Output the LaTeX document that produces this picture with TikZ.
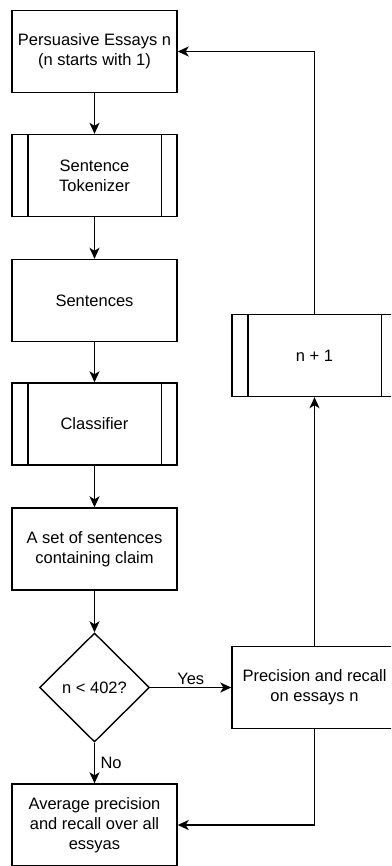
\documentclass[tikz,border=0pt]{standalone}
\usepackage{fontspec}
\setmainfont{Liberation Sans}
\usetikzlibrary{shapes.geometric,arrows.meta}
\begin{document}
\begin{tikzpicture}[x=1pt,y=-1pt,
  every node/.style={font=\fontsize{16.5}{19.8}\selectfont, align=center},
  box/.style={draw, line width=1.4pt, minimum width=165pt, minimum height=82pt, inner sep=2pt},
  decision/.style={draw, line width=1.4pt, diamond, minimum width=110pt, minimum height=109pt, inner sep=0pt},
  flow/.style={line width=1.4pt, -{Stealth[length=11pt,width=10pt,inset=3pt]}},
  lbl/.style={font=\fontsize{16.5}{19.8}\selectfont}
]
\useasboundingbox (0,0) rectangle (391,866);
\clip (0,0) rectangle (391,866);

% main column
\node[box] (essays) at (94.5,51.5) {Persuasive Essays n\\(n starts with 1)};
\node[box] (tok) at (94.5,175.5) {Sentence\\Tokenizer};
\node[box] (sent) at (94.5,300.5) {Sentences};
\node[box] (cls) at (94.5,424) {Classifier};
\node[box] (claims) at (94.5,549) {A set of sentences\\containing claim};
\node[decision] (test) at (94.5,687.5) {n < 402?};
\node[box] (avg) at (94.5,825) {Average precision\\and recall over all\\essyas};

% loop column
\node[box] (prec) at (314.5,687.5) {Precision and recall\\on essays n};
\node[box] (inc) at (314.5,355.5) {n + 1};

% predefined-process side bars
\foreach \n in {tok,cls,inc}{
  \draw[line width=1.4pt] ([xshift=16.5pt]\n.north west) -- ([xshift=16.5pt]\n.south west);
  \draw[line width=1.4pt] ([xshift=-16.5pt]\n.north east) -- ([xshift=-16.5pt]\n.south east);
}

% connectors
\draw[flow] (essays) -- (tok);
\draw[flow] (tok) -- (sent);
\draw[flow] (sent) -- (cls);
\draw[flow] (cls) -- (claims);
\draw[flow] (claims) -- (test);
\draw[flow] (test) -- node[lbl, right, xshift=2pt] {No} (avg);
\draw[flow] (test) -- node[lbl, above, yshift=-1pt] {Yes} (prec);
\draw[flow] (prec) -- (inc);
\draw[flow] (inc.north) |- (essays.east);
\draw[flow] (prec.south) |- (avg.east);
\end{tikzpicture}
\end{document}
